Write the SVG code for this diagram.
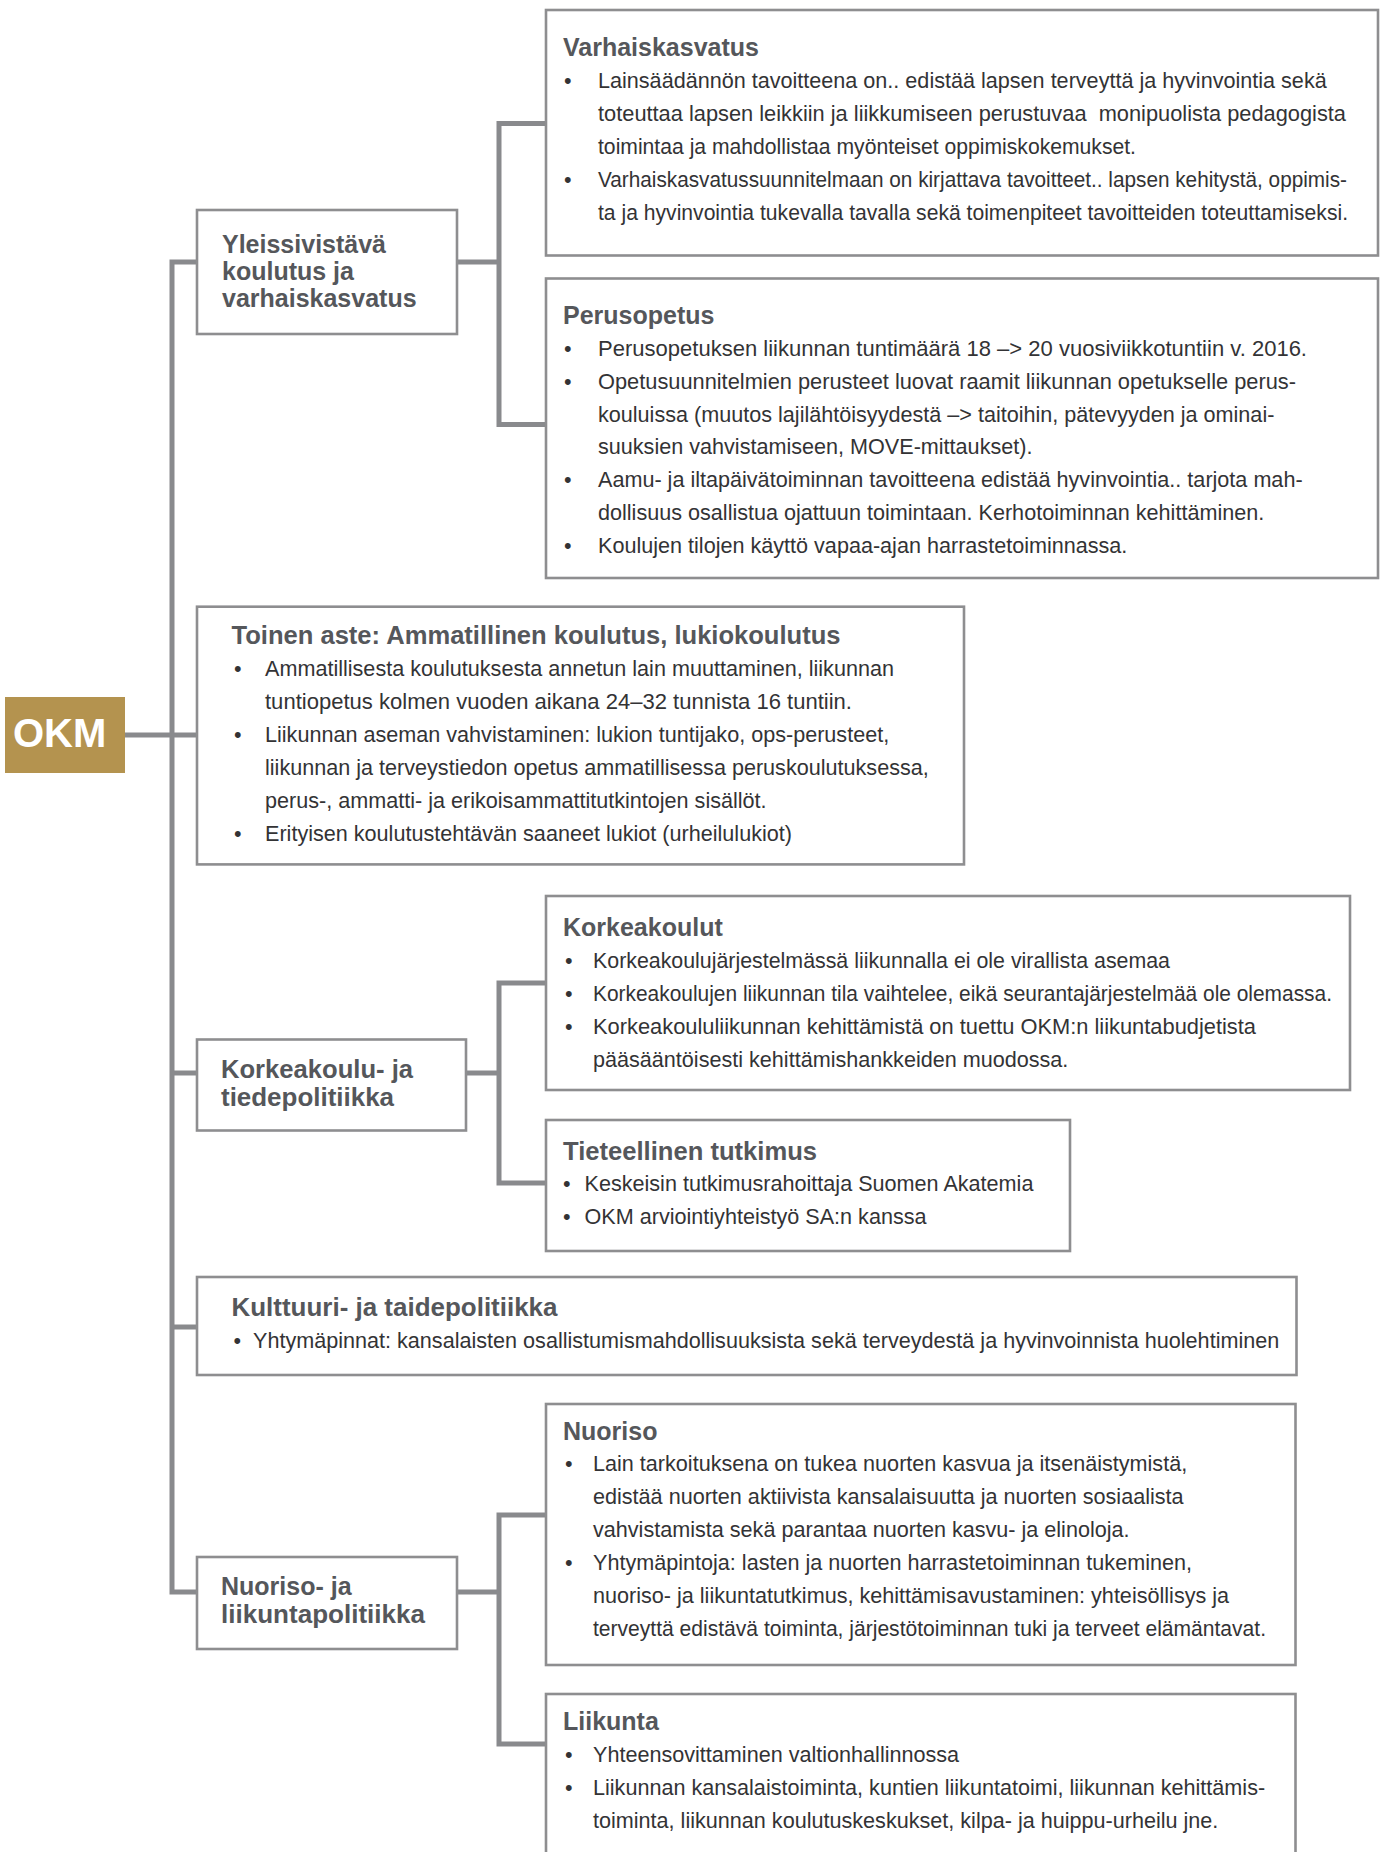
<svg xmlns="http://www.w3.org/2000/svg" width="1384" height="1852" viewBox="0 0 1384 1852">
<style>
.box{fill:#ffffff;stroke:#8e8e90;stroke-width:2.6}
.conn{fill:none;stroke:#898a8d;stroke-width:5;stroke-linejoin:miter}
.h{font-family:"Liberation Sans",Arial,sans-serif;font-weight:bold;font-size:25px;fill:#55575b}
.b{font-family:"Liberation Sans",Arial,sans-serif;font-size:21.6px;fill:#333335}
.okm{font-family:"Liberation Sans",Arial,sans-serif;font-weight:bold;font-size:40px;fill:#ffffff}
</style>
<rect width="1384" height="1852" fill="#ffffff"/>
<g id="connectors">
<path class="conn" d="M125 735 H197"/>
<path class="conn" d="M197 262 H172 V1592 H197"/>
<path class="conn" d="M172 1073 H197"/>
<path class="conn" d="M172 1327 H197"/>
<path class="conn" d="M457 262 H499"/>
<path class="conn" d="M546 123.5 H499 V424.5 H546"/>
<path class="conn" d="M466 1073 H499"/>
<path class="conn" d="M546 983 H499 V1183 H546"/>
<path class="conn" d="M457 1592 H499"/>
<path class="conn" d="M546 1515 H499 V1744 H546"/>
</g>
<g id="okm">
<rect x="5" y="697" width="120" height="76" fill="#b4934f"/>
<text class="okm" x="13" y="747">OKM</text>
</g>
<g id="yleissivistava">
<rect class="box" x="197" y="210" width="260" height="124"/>
<text class="h" x="222" y="252.5">Yleissivistävä</text>
<text class="h" x="222" y="279.5">koulutus ja</text>
<text class="h" x="222" y="306.5">varhaiskasvatus</text>
</g>
<g id="varhaiskasvatus">
<rect class="box" x="546" y="10" width="832" height="245.5"/>
<text class="h" x="563" y="55.5">Varhaiskasvatus</text>
<text class="b" x="564" y="88.3">•</text>
<text class="b" x="598" y="88.3">Lainsäädännön tavoitteena on.. edistää lapsen terveyttä ja hyvinvointia sekä</text>
<text class="b" x="598" y="121.3" xml:space="preserve" textLength="748" lengthAdjust="spacingAndGlyphs">toteuttaa lapsen leikkiin ja liikkumiseen perustuvaa  monipuolista pedagogista</text>
<text class="b" x="598" y="154.3" textLength="538" lengthAdjust="spacingAndGlyphs">toimintaa ja mahdollistaa myönteiset oppimiskokemukset.</text>
<text class="b" x="564" y="187.3">•</text>
<text class="b" x="598" y="187.3" textLength="749" lengthAdjust="spacingAndGlyphs">Varhaiskasvatussuunnitelmaan on kirjattava tavoitteet.. lapsen kehitystä, oppimis-</text>
<text class="b" x="598" y="220.3" textLength="750" lengthAdjust="spacingAndGlyphs">ta ja hyvinvointia tukevalla tavalla sekä toimenpiteet tavoitteiden toteuttamiseksi.</text>
</g>
<g id="perusopetus">
<rect class="box" x="546" y="278.5" width="832" height="299.5"/>
<text class="h" x="563" y="323.8">Perusopetus</text>
<text class="b" x="564" y="356">•</text>
<text class="b" x="598" y="356" textLength="709" lengthAdjust="spacingAndGlyphs">Perusopetuksen liikunnan tuntimäärä 18 –&gt; 20 vuosiviikkotuntiin v. 2016.</text>
<text class="b" x="564" y="388.8">•</text>
<text class="b" x="598" y="388.8" textLength="698" lengthAdjust="spacingAndGlyphs">Opetusuunnitelmien perusteet luovat raamit liikunnan opetukselle perus-</text>
<text class="b" x="598" y="421.6">kouluissa (muutos lajilähtöisyydestä –&gt; taitoihin, pätevyyden ja ominai-</text>
<text class="b" x="598" y="454.4">suuksien vahvistamiseen, MOVE-mittaukset).</text>
<text class="b" x="564" y="487.2">•</text>
<text class="b" x="598" y="487.2">Aamu- ja iltapäivätoiminnan tavoitteena edistää hyvinvointia.. tarjota mah-</text>
<text class="b" x="598" y="520">dollisuus osallistua ojattuun toimintaan. Kerhotoiminnan kehittäminen.</text>
<text class="b" x="564" y="552.8">•</text>
<text class="b" x="598" y="552.8">Koulujen tilojen käyttö vapaa-ajan harrastetoiminnassa.</text>
</g>
<g id="toinen-aste">
<rect class="box" x="197" y="606.7" width="767" height="257.7"/>
<text class="h" x="231.5" y="644" textLength="609" lengthAdjust="spacingAndGlyphs">Toinen aste: Ammatillinen koulutus, lukiokoulutus</text>
<text class="b" x="234" y="676">•</text>
<text class="b" x="265" y="676">Ammatillisesta koulutuksesta annetun lain muuttaminen, liikunnan</text>
<text class="b" x="265" y="709" textLength="587" lengthAdjust="spacingAndGlyphs">tuntiopetus kolmen vuoden aikana 24–32 tunnista 16 tuntiin.</text>
<text class="b" x="234" y="742">•</text>
<text class="b" x="265" y="742">Liikunnan aseman vahvistaminen: lukion tuntijako, ops-perusteet,</text>
<text class="b" x="265" y="775">liikunnan ja terveystiedon opetus ammatillisessa peruskoulutuksessa,</text>
<text class="b" x="265" y="808">perus-, ammatti- ja erikoisammattitutkintojen sisällöt.</text>
<text class="b" x="234" y="841">•</text>
<text class="b" x="265" y="841">Erityisen koulutustehtävän saaneet lukiot (urheilulukiot)</text>
</g>
<g id="korkeakoulupolitiikka">
<rect class="box" x="197" y="1039.5" width="269" height="91"/>
<text class="h" x="221" y="1078" textLength="192" lengthAdjust="spacingAndGlyphs">Korkeakoulu- ja</text>
<text class="h" x="221" y="1105.5" textLength="173" lengthAdjust="spacingAndGlyphs">tiedepolitiikka</text>
</g>
<g id="korkeakoulut">
<rect class="box" x="546" y="896" width="804" height="194"/>
<text class="h" x="563" y="935.5">Korkeakoulut</text>
<text class="b" x="565" y="968">•</text>
<text class="b" x="593" y="968" textLength="577" lengthAdjust="spacingAndGlyphs">Korkeakoulujärjestelmässä liikunnalla ei ole virallista asemaa</text>
<text class="b" x="565" y="1001">•</text>
<text class="b" x="593" y="1001" textLength="739" lengthAdjust="spacingAndGlyphs">Korkeakoulujen liikunnan tila vaihtelee, eikä seurantajärjestelmää ole olemassa.</text>
<text class="b" x="565" y="1034">•</text>
<text class="b" x="593" y="1034" textLength="663" lengthAdjust="spacingAndGlyphs">Korkeakoululiikunnan kehittämistä on tuettu OKM:n liikuntabudjetista</text>
<text class="b" x="593" y="1067">pääsääntöisesti kehittämishankkeiden muodossa.</text>
</g>
<g id="tieteellinen-tutkimus">
<rect class="box" x="546" y="1120" width="524" height="131"/>
<text class="h" x="563" y="1160" textLength="254" lengthAdjust="spacingAndGlyphs">Tieteellinen tutkimus</text>
<text class="b" x="563" y="1191.2">•</text>
<text class="b" x="584.5" y="1191.2">Keskeisin tutkimusrahoittaja Suomen Akatemia</text>
<text class="b" x="563" y="1224.3">•</text>
<text class="b" x="584.5" y="1224.3">OKM arviointiyhteistyö SA:n kanssa</text>
</g>
<g id="kulttuuri">
<rect class="box" x="197" y="1277" width="1099.5" height="98"/>
<text class="h" x="231.5" y="1316" textLength="326" lengthAdjust="spacingAndGlyphs">Kulttuuri- ja taidepolitiikka</text>
<text class="b" x="233.5" y="1348.3">•</text>
<text class="b" x="253" y="1348.3">Yhtymäpinnat: kansalaisten osallistumismahdollisuuksista sekä terveydestä ja hyvinvoinnista huolehtiminen</text>
</g>
<g id="nuorisopolitiikka">
<rect class="box" x="197" y="1557" width="260" height="92"/>
<text class="h" x="221" y="1594.5">Nuoriso- ja</text>
<text class="h" x="221" y="1622.5" textLength="204" lengthAdjust="spacingAndGlyphs">liikuntapolitiikka</text>
</g>
<g id="nuoriso">
<rect class="box" x="546" y="1404" width="749.5" height="261"/>
<text class="h" x="563" y="1440">Nuoriso</text>
<text class="b" x="565" y="1471">•</text>
<text class="b" x="593" y="1471">Lain tarkoituksena on tukea nuorten kasvua ja itsenäistymistä,</text>
<text class="b" x="593" y="1504.1">edistää nuorten aktiivista kansalaisuutta ja nuorten sosiaalista</text>
<text class="b" x="593" y="1537.2">vahvistamista sekä parantaa nuorten kasvu- ja elinoloja.</text>
<text class="b" x="565" y="1570.3">•</text>
<text class="b" x="593" y="1570.3">Yhtymäpintoja: lasten ja nuorten harrastetoiminnan tukeminen,</text>
<text class="b" x="593" y="1603.4">nuoriso- ja liikuntatutkimus, kehittämisavustaminen: yhteisöllisys ja</text>
<text class="b" x="593" y="1636.4" textLength="673" lengthAdjust="spacingAndGlyphs">terveyttä edistävä toiminta, järjestötoiminnan tuki ja terveet elämäntavat.</text>
</g>
<g id="liikunta">
<rect class="box" x="546" y="1694" width="749.5" height="180"/>
<text class="h" x="563" y="1730">Liikunta</text>
<text class="b" x="565" y="1761.6">•</text>
<text class="b" x="593" y="1761.6">Yhteensovittaminen valtionhallinnossa</text>
<text class="b" x="565" y="1794.7">•</text>
<text class="b" x="593" y="1794.7">Liikunnan kansalaistoiminta, kuntien liikuntatoimi, liikunnan kehittämis-</text>
<text class="b" x="593" y="1827.7">toiminta, liikunnan koulutuskeskukset, kilpa- ja huippu-urheilu jne.</text>
</g>
</svg>
